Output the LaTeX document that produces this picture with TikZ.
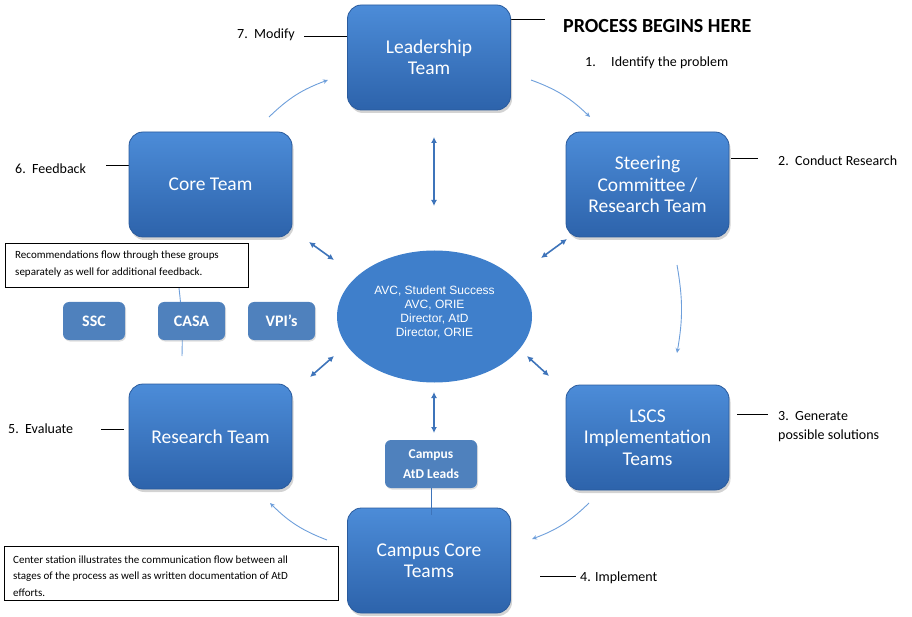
\documentclass[tikz,border=0pt]{standalone}
\usepackage{fontspec}
\setmainfont{Carlito}
\newfontfamily\arialf{Liberation Sans}
\usetikzlibrary{arrows.meta,shadows,calc,shapes.geometric}
\definecolor{boxtop}{HTML}{4C8CD8}
\definecolor{boxbot}{HTML}{2D63AB}
\definecolor{boxedge}{HTML}{2A5B9D}
\definecolor{ellfill}{HTML}{3F7FCB}
\definecolor{smallfill}{HTML}{4F81BD}
\definecolor{darrow}{HTML}{3E74BA}
\definecolor{larrow}{HTML}{6E9FDB}
\tikzset{
  bigbox/.style={rounded corners=14pt, minimum width=163pt, minimum height=105pt,
    top color=boxtop, bottom color=boxbot, draw=boxedge, line width=0.8pt,
    text=white, align=center, inner sep=0pt,
    font=\fontsize{19.5}{21.5}\selectfont,
    drop shadow={shadow xshift=1.5pt, shadow yshift=-3pt, opacity=0.35}},
  smallbox/.style={rounded corners=6pt, fill=smallfill, text=white, inner sep=0pt,
    font=\bfseries\fontsize{16}{18}\selectfont,
    drop shadow={shadow xshift=1pt, shadow yshift=-1.5pt, opacity=0.25}},
  steplabel/.style={anchor=west, inner sep=0pt, align=left,
    font=\fontsize{14}{19}\selectfont},
  notebox/.style={draw=black, line width=0.9pt, anchor=north west, inner sep=0pt},
  notetext/.style={anchor=west, inner sep=0pt, align=left, font=\fontsize{11}{16.5}\selectfont},
  dbl/.style={draw=darrow, line width=1.6pt, {Latex[length=6pt,width=6pt]}-{Latex[length=6pt,width=6pt]}},
  flow/.style={draw=larrow, line width=0.9pt, -{Stealth[length=5pt,width=4.5pt]}},
  tick/.style={draw=black, line width=0.8pt},
}
\begin{document}
\begin{tikzpicture}[x=1pt,y=-1pt]
\path[use as bounding box] (0,0) rectangle (912,617);

% label ticks drawn behind boxes
\coordinate (t7a) at (304,36);  \coordinate (t7b) at (348,36);
\coordinate (tpa) at (511,19);  \coordinate (tpb) at (545,19);
\coordinate (t2a) at (731,158); \coordinate (t2b) at (758,158);
\coordinate (t3a) at (737,414); \coordinate (t3b) at (768,414);
\coordinate (t4a) at (540,576); \coordinate (t4b) at (576,576);
\coordinate (t5a) at (101,429); \coordinate (t5b) at (124,429);
\coordinate (t6a) at (106,165); \coordinate (t6b) at (129,165);
\draw[tick] (t7a) -- (t7b);
\draw[tick] (tpa) -- (tpb);
\draw[tick] (t2a) -- (t2b);
\draw[tick] (t3a) -- (t3b);
\draw[tick] (t4a) -- (t4b);
\draw[tick] (t5a) -- (t5b);
\draw[tick] (t6a) -- (t6b);

% arc behind CASA
\coordinate (ca1) at (179,288); \coordinate (ca2) at (182,356);
\draw[draw=larrow, line width=0.9pt] (ca1) to[bend left=4] (ca2);

% big boxes
\node[bigbox] (lead) at (429,57.5) {Leadership\\Team};
\node[bigbox] (steer) at (647.5,184.5) {Steering\\Committee /\\Research Team};
\node[bigbox] (lscs) at (647.5,437.5) {LSCS\\Implementation\\Teams};
\node[bigbox] (campus) at (429,560.5) {Campus Core\\Teams};
\node[bigbox] (research) at (210.5,436.5) {Research Team};
\node[bigbox] (core) at (210.5,184.5) {Core Team};

% center ellipse
\node[ellipse, fill=ellfill, minimum width=195pt, minimum height=132pt, inner sep=0pt] (center) at (434.5,316.5) {};
\node[text=white, align=center, inner sep=0pt, font=\arialf\fontsize{12}{14.2}\selectfont] (centertext) at (434.5,312)
  {AVC, Student Success\\AVC, ORIE\\Director, AtD\\Director, ORIE};

% small boxes
\node[smallbox, minimum width=62pt, minimum height=38pt] (ssc) at (94,321) {SSC};
\node[smallbox, minimum width=67pt, minimum height=38pt] (casa) at (191.5,321) {CASA};
\node[smallbox, minimum width=67pt, minimum height=38pt] (vpi) at (281.5,321) {VPI’s};
\node[smallbox, minimum width=92pt, minimum height=48pt, align=center,
  font=\bfseries\fontsize{13.5}{20}\selectfont] (atd) at (431,464) {Campus\\AtD Leads};
\draw[draw=darrow, line width=0.7pt] (atd.south) -- (atd.south |- 0,515);

% double arrows to/from center
\coordinate (d1a) at (434,137); \coordinate (d1b) at (434,206);
\coordinate (d2a) at (309,242); \coordinate (d2b) at (334,260);
\coordinate (d3a) at (567,239); \coordinate (d3b) at (541,258);
\coordinate (d4a) at (310,377); \coordinate (d4b) at (334,356);
\coordinate (d5a) at (527,356); \coordinate (d5b) at (549,376);
\coordinate (d6a) at (434,392); \coordinate (d6b) at (434,433);
\draw[dbl] (d1a) -- (d1b);
\draw[dbl] (d2a) -- (d2b);
\draw[dbl] (d3a) -- (d3b);
\draw[dbl] (d4a) -- (d4b);
\draw[dbl] (d5a) -- (d5b);
\draw[dbl] (d6a) -- (d6b);

% flow arrows around the cycle
\coordinate (f1a) at (531,80);  \coordinate (f1b) at (590,117);
\coordinate (f2a) at (677,265); \coordinate (f2b) at (677,353);
\coordinate (f3a) at (589,503); \coordinate (f3b) at (532,539);
\coordinate (f4a) at (327,540); \coordinate (f4b) at (270,503);
\coordinate (f5a) at (269,117); \coordinate (f5b) at (328,80);
\draw[flow] (f1a) to[bend left=12] (f1b);
\draw[flow] (f2a) to[bend left=10] (f2b);
\draw[flow] (f3a) to[bend left=12] (f3b);
\draw[flow] (f4a) to[bend left=12] (f4b);
\draw[flow] (f5a) to[bend left=12] (f5b);

% step labels
\node[steplabel] (l7) at (237,35) {7.\ \ Modify};
\node[steplabel, font=\bfseries\fontsize{20}{22}\selectfont] (lp) at (563,26) {PROCESS BEGINS HERE};
\node[steplabel] (l1) at (585,63) {1.\hspace{1.1em}Identify the problem};
\node[steplabel] (l2) at (778,161) {2.\ \ Conduct Research};
\node[steplabel] (l3) at (778,426.5) {3.\ \ Generate\\possible solutions};
\node[steplabel] (l4) at (580,578) {4. Implement};
\node[steplabel] (l5) at (8,429) {5.\ \ Evaluate};
\node[steplabel] (l6) at (15,169) {6.\ \ Feedback};

% note boxes
\node[notebox, minimum width=243pt, minimum height=44pt] (note1) at (5,243) {};
\node[notetext] (note1t) at (15,264) {Recommendations flow through these groups\\separately as well for additional feedback.};
\node[notebox, minimum width=334pt, minimum height=54pt] (note2) at (4,546) {};
\node[notetext] (note2t) at (13,576) {Center station illustrates the communication flow between all\\stages of the process as well as written documentation of AtD\\efforts.};
\end{tikzpicture}
\end{document}
